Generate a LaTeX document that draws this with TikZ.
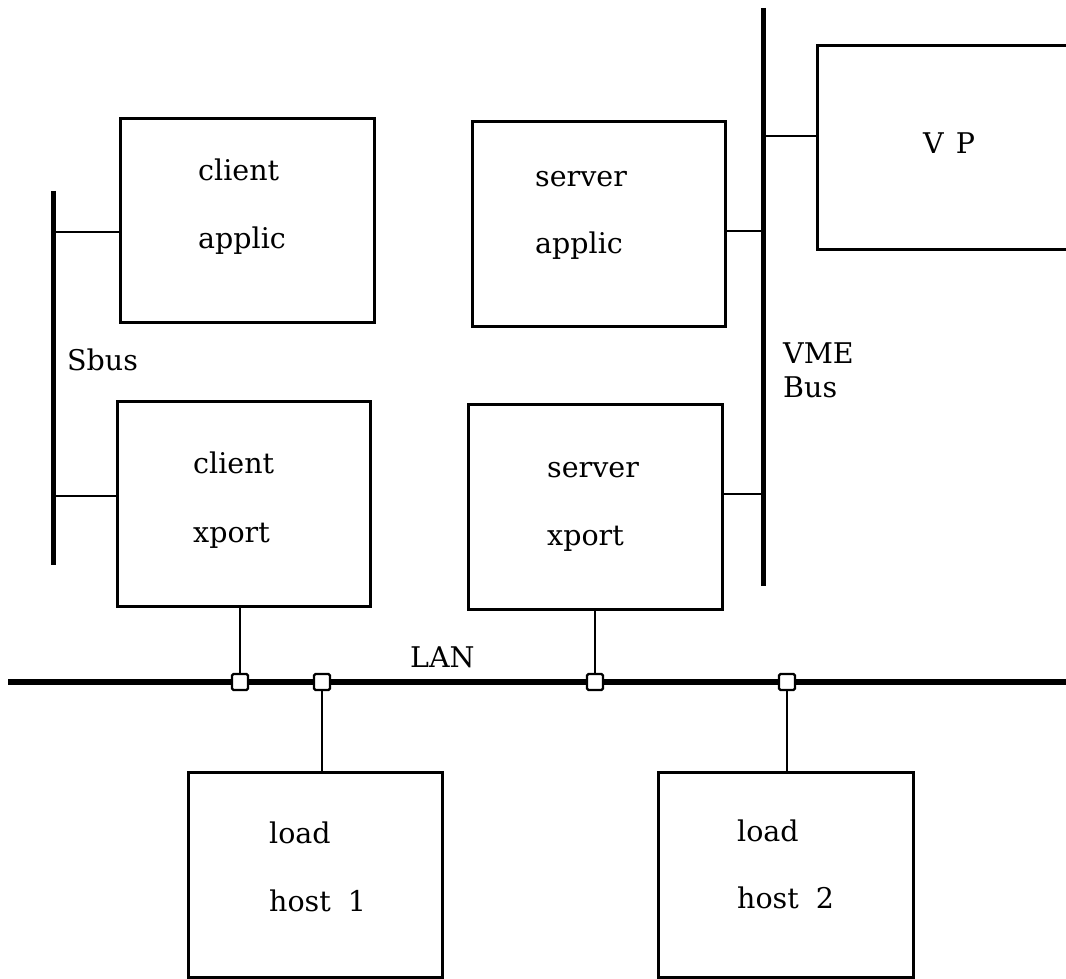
\documentclass[tikz,border=0pt]{standalone}
\usepackage{fontspec}
\setmainfont{DejaVu Serif}
\begin{document}
\begin{tikzpicture}[x=1pt,y=-1pt,
  box/.style={draw,line width=2.8pt,inner sep=0pt,anchor=north west},
  lbl/.style={anchor=base west,inner sep=0pt,font=\fontsize{28.5}{34}\selectfont},
  wire/.style={line width=2.2pt},
  bus/.style={line width=5pt},
  lan/.style={line width=5.5pt},
  tap/.style={draw,fill=white,line width=2.2pt,minimum size=16pt,inner sep=0pt,rounded corners=1.5pt}]
\useasboundingbox (0,0) rectangle (1066,979);
\clip (0,0) rectangle (1066,979);

% processing boxes
\node[box,minimum width=254pt,minimum height=204pt] (ca) at (119,117) {};
\node[box,minimum width=253pt,minimum height=205pt] (sa) at (471,120) {};
\node[box,minimum width=253pt,minimum height=205pt] (cx) at (116,400) {};
\node[box,minimum width=254pt,minimum height=205pt] (sx) at (467,403) {};
\node[box,minimum width=254pt,minimum height=205pt] (h1) at (187,771) {};
\node[box,minimum width=255pt,minimum height=205pt] (h2) at (657,771) {};
\node[box,minimum width=280pt,minimum height=204pt] (vp) at (816,44) {};

% box labels
\node[lbl] (ca1) at (198,181) {client};
\node[lbl] (ca2) at (198,248) {applic};
\node[lbl] (sa1) at (535,186) {server};
\node[lbl] (sa2) at (535,253) {applic};
\node[lbl] (cx1) at (193,473) {client};
\node[lbl] (cx2) at (193,542) {xport};
\node[lbl] (sx1) at (547,477) {server};
\node[lbl] (sx2) at (547,545) {xport};
\node[lbl] (h1a) at (269,843) {load};
\node[lbl] (h1b) at (269,911) {host\hspace{8pt} 1};
\node[lbl] (h2a) at (737,841) {load};
\node[lbl] (h2b) at (737,908) {host\hspace{8pt} 2};
\node[lbl] (vpl) at (923,154) {V\hspace{3pt} P};

% bus labels
\node[lbl] (sbusl) at (67,370) {Sbus};
\node[lbl] (vmel1) at (783,363) {VME};
\node[lbl] (vmel2) at (783,397) {Bus};
\node[lbl] (lanl) at (410,667) {LAN};

% Sbus
\coordinate (sbT) at (53,191);
\coordinate (sbB) at (53,565);
\draw[bus] (sbT) -- (sbB);
\coordinate (sb1) at (53,232);
\coordinate (sb2) at (53,496);
\draw[wire] (sb1) -- (sb1 -| ca.west);
\draw[wire] (sb2) -- (sb2 -| cx.west);

% VME bus
\coordinate (vmT) at (763,8);
\coordinate (vmB) at (763,586);
\draw[bus] (vmT) -- (vmB);
\coordinate (vm1) at (763,136);
\coordinate (vm2) at (763,231);
\coordinate (vm3) at (763,494);
\draw[wire] (vm1) -- (vm1 -| vp.west);
\draw[wire] (vm2) -- (vm2 -| sa.east);
\draw[wire] (vm3) -- (vm3 -| sx.east);

% LAN
\coordinate (lanL) at (8,682);
\coordinate (lanR) at (1080,682);
\draw[lan] (lanL) -- (lanR);
\node[tap] (t1) at (240,682) {};
\node[tap] (t2) at (322,682) {};
\node[tap] (t3) at (595,682) {};
\node[tap] (t4) at (787,682) {};
\draw[wire] (t1 |- cx.south) -- (t1.north);
\draw[wire] (t3 |- sx.south) -- (t3.north);
\draw[wire] (t2.south) -- (t2 |- h1.north);
\draw[wire] (t4.south) -- (t4 |- h2.north);
\end{tikzpicture}
\end{document}
